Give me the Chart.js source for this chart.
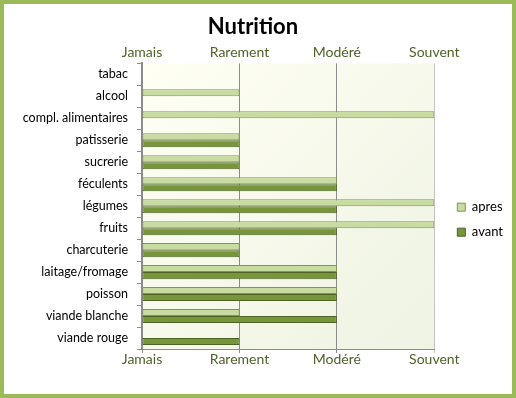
<!DOCTYPE html>
<html>
<head>
<meta charset="utf-8">
<script src="https://cdn.jsdelivr.net/npm/chart.js@4"></script>
<style>
  html, body { margin: 0; padding: 0; background: #fff; }
  #wrap { width: 516px; height: 398px; box-sizing: border-box; border: 4px solid #9bbb59; background: #fff; }
  #c { display: block; }
</style>
</head>
<body>
<div id="wrap"><canvas id="c" width="508" height="390"></canvas></div>
<script>
var categories = ['tabac', 'alcool', 'compl. alimentaires', 'patisserie', 'sucrerie', 'féculents',
    'légumes', 'fruits', 'charcuterie', 'laitage/fromage', 'poisson', 'viande blanche', 'viande rouge'];
var apres = [0, 1, 3, 1, 1, 2, 3, 3, 1, 2, 2, 1, 0];
var avant = [0, 0, 0, 1, 1, 2, 2, 2, 1, 2, 2, 2, 1];
var levels = ['Jamais', 'Rarement', 'Modéré', 'Souvent'];

var fontFamily = 'Lato, "Open Sans", sans-serif';

// fond de la zone de tracé
var plotBg = {
    id: 'plotBg',
    beforeDraw: function (chart) {
        var a = chart.chartArea, ctx = chart.ctx;
        var g = ctx.createLinearGradient(a.left, a.top, a.right, a.bottom);
        g.addColorStop(0, '#fffff4');
        g.addColorStop(1, '#eef3e2');
        ctx.save();
        ctx.fillStyle = g;
        ctx.fillRect(a.left, a.top, a.right - a.left, a.bottom - a.top);
        ctx.restore();
    }
};

// décale un peu la légende vers la droite
var legendShift = {
    id: 'legendShift',
    afterLayout: function (chart) {
        chart.legend.left += 11;
        chart.legend.right += 11;
    }
};

var levelTick = function (v) { return levels[v]; };

new Chart(document.getElementById('c').getContext('2d'), {
    type: 'bar',
    data: {
        labels: categories,
        datasets: [
            {
                label: 'apres',
                data: apres,
                backgroundColor: '#c8dba0',
                borderColor: '#7d9a45',
                borderWidth: 1,
                borderSkipped: false,
                categoryPercentage: 0.64,
                barPercentage: 1.0
            },
            {
                label: 'avant',
                data: avant,
                backgroundColor: '#77963a',
                borderColor: '#4f6228',
                borderWidth: 1,
                borderSkipped: false,
                categoryPercentage: 0.64,
                barPercentage: 1.0
            }
        ]
    },
    options: {
        indexAxis: 'y',
        responsive: false,
        animation: false,
        layout: {padding: {left: 0, right: 10, top: 0, bottom: 25}},
        scales: {
            x: {
                position: 'bottom',
                min: 0, max: 3,
                ticks: {stepSize: 1, callback: levelTick, color: '#4f6228', font: {family: fontFamily, size: 14}, padding: -2},
                grid: {
                    color: function (ctx) { return ctx.index === levels.length - 1 ? '#c4c4c4' : '#8c8c8c'; },
                    tickLength: 4, drawTicks: true
                },
                border: {display: true, color: '#8c8c8c'},
                afterFit: function (scale) { scale.height = 20; }
            },
            x2: {
                position: 'top',
                axis: 'x',
                min: 0, max: 3,
                ticks: {stepSize: 1, callback: levelTick, color: '#4f6228', font: {family: fontFamily, size: 14}, padding: 3},
                grid: {display: false, drawTicks: false, tickLength: 0},
                border: {display: false},
                afterFit: function (scale) { scale.height = 20; }
            },
            y: {
                ticks: {color: '#000', font: {family: fontFamily, size: 12.5}, padding: 9},
                grid: {drawOnChartArea: false, tickLength: 5, color: '#8c8c8c'},
                border: {color: '#8c8c8c', width: 2},
                afterFit: function (scale) { scale.width = 138; }
            }
        },
        plugins: {
            title: {
                display: true,
                text: 'Nutrition',
                color: '#000',
                font: {family: fontFamily, size: 22, weight: 'bold'},
                padding: {top: 10, bottom: 3}
            },
            legend: {
                position: 'right',
                title: {display: true, text: '', padding: {top: 52, bottom: 0}},
                labels: {
                    boxWidth: 8, boxHeight: 8, padding: 12,
                    color: '#000',
                    font: {family: fontFamily, size: 13}
                }
            },
            tooltip: {enabled: false}
        }
    },
    plugins: [plotBg, legendShift]
});
</script>
</body>
</html>
